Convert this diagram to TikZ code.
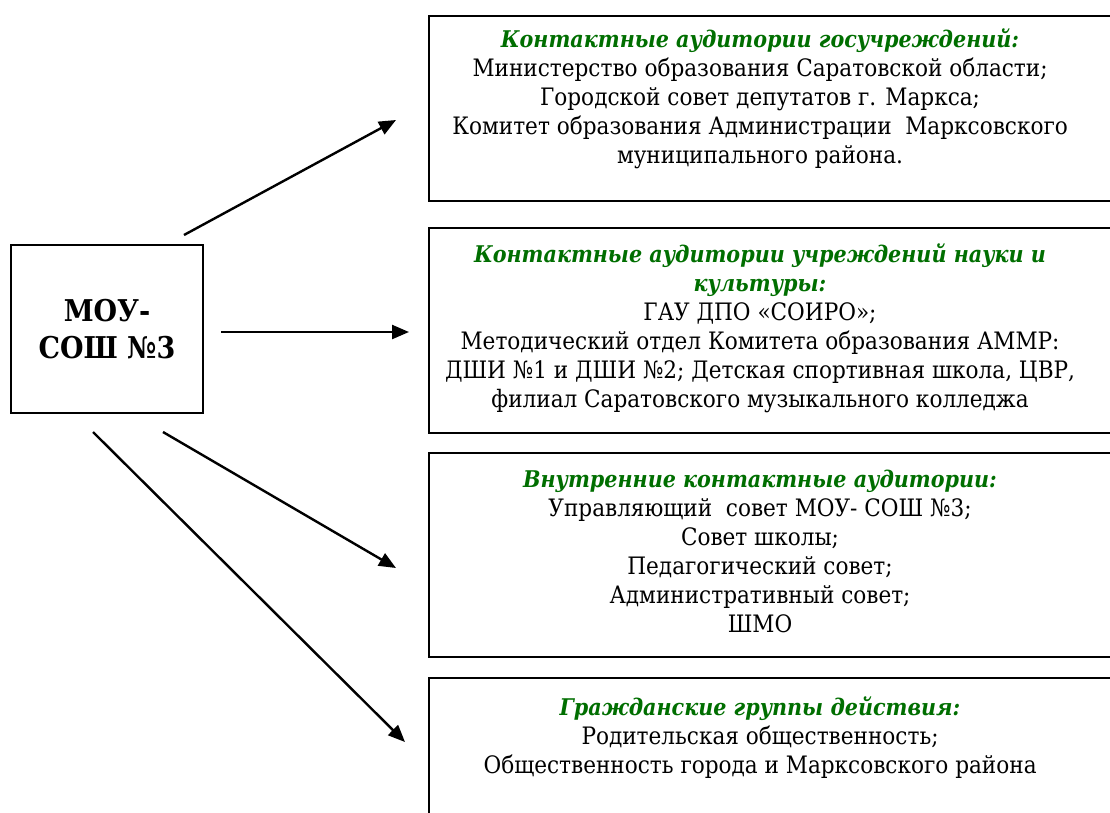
\documentclass[tikz,border=0pt]{standalone}
\usepackage{fontspec}
\setmainfont{DejaVu Serif Condensed}[Ligatures=TeX]
\usetikzlibrary{arrows.meta}
\definecolor{titlegreen}{RGB}{0,110,0}
\newcommand{\ttl}[1]{{\color{titlegreen}\bfseries\itshape\fontsize{23}{29}\selectfont #1}}
\begin{document}
\begin{tikzpicture}[x=1pt,y=-1pt,
  rbox/.style={draw, line width=1.8pt, minimum width=700pt, inner sep=0pt, anchor=north west},
  txt/.style={align=center, inner sep=0pt, anchor=north, font=\fontsize{24}{29}\selectfont},
  conn/.style={line width=2.4pt, -{Triangle[length=17pt,width=14pt]}}]
\useasboundingbox (0,0) rectangle (1110,812);
% left box
\node[draw, line width=1.8pt, minimum width=192pt, minimum height=168pt, inner sep=0pt,
      align=center, font=\bfseries\fontsize{30}{37}\selectfont] (moy) at (107,329) {МОУ-\\СОШ №3};
% right boxes
\node[rbox, minimum height=185pt] (b1) at (428,15) {};
\node[rbox, minimum height=205pt] (b2) at (428,227) {};
\node[rbox, minimum height=204pt] (b3) at (428,452) {};
\node[rbox, minimum height=160pt] (b4) at (428,677) {};
% texts
\node[txt] (t1) at (760,29) {\ttl{Контактные аудитории госучреждений:}\\
Министерство образования Саратовской области;\\
Городской совет депутатов г. Маркса;\\
Комитет образования Администрации\ \ Марксовского\\
муниципального района.};
\node[txt] (t2) at (760,244) {\ttl{Контактные аудитории учреждений науки и}\\
\ttl{культуры:}\\
ГАУ ДПО «СОИРО»;\\
Методический отдел Комитета образования АММР:\\
ДШИ №1 и ДШИ №2; Детская спортивная школа, ЦВР,\\
филиал Саратовского музыкального колледжа};
\node[txt] (t3) at (760,470) {\ttl{Внутренние контактные аудитории:}\\
Управляющий\ \ совет МОУ- СОШ №3;\\
Совет школы;\\
Педагогический совет;\\
Административный совет;\\
ШМО};
\node[txt] (t4) at (760,696) {\ttl{Гражданские группы действия:}\\
Родительская общественность;\\
Общественность города и Марксовского района};
% connectors
\coordinate (s1) at (184,235); \coordinate (e1) at (396,120);
\coordinate (s2) at (221,332); \coordinate (e2) at (409,332);
\coordinate (s3) at (163,432); \coordinate (e3) at (396,568);
\coordinate (s4) at (93,432);  \coordinate (e4) at (405,742);
\draw[conn] (s1) -- (e1);
\draw[conn] (s2) -- (e2);
\draw[conn] (s3) -- (e3);
\draw[conn] (s4) -- (e4);
\end{tikzpicture}
\end{document}
